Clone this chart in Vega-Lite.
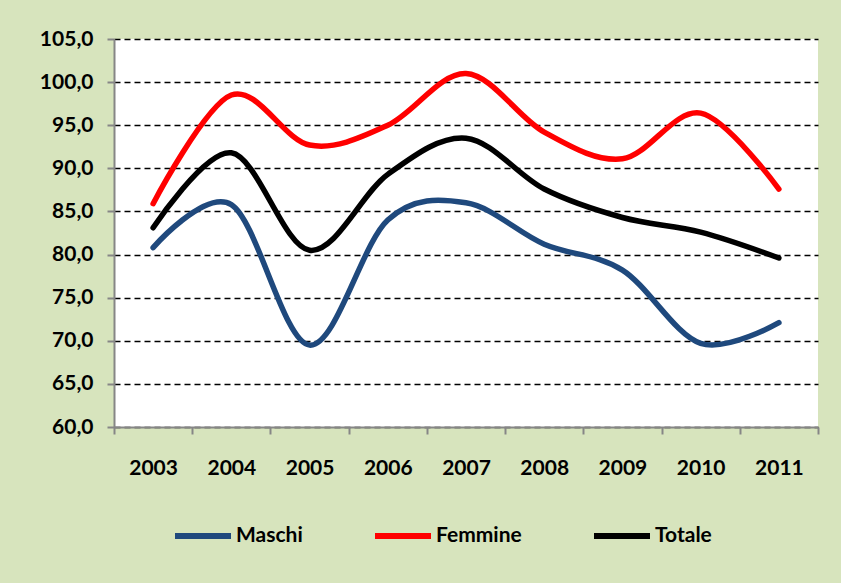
{
  "$schema": "https://vega.github.io/schema/vega-lite/v6.json",
  "width": 704,
  "height": 388,
  "autosize": {"type": "none"},
  "padding": {"left": 114, "top": 39, "right": 23, "bottom": 156},
  "background": "#D7E4BD",
  "config": {"view": {"fill": "white", "stroke": null}, "font": "Lato"},
  "data": {
    "values": [
      {"anno": "2003", "serie": "Maschi", "valore": 80.8},
      {"anno": "2004", "serie": "Maschi", "valore": 85.8},
      {"anno": "2005", "serie": "Maschi", "valore": 69.5},
      {"anno": "2006", "serie": "Maschi", "valore": 84.0},
      {"anno": "2007", "serie": "Maschi", "valore": 86.0},
      {"anno": "2008", "serie": "Maschi", "valore": 81.2},
      {"anno": "2009", "serie": "Maschi", "valore": 78.2},
      {"anno": "2010", "serie": "Maschi", "valore": 69.7},
      {"anno": "2011", "serie": "Maschi", "valore": 72.1},
      {"anno": "2003", "serie": "Femmine", "valore": 85.9},
      {"anno": "2004", "serie": "Femmine", "valore": 98.5},
      {"anno": "2005", "serie": "Femmine", "valore": 92.7},
      {"anno": "2006", "serie": "Femmine", "valore": 95.0},
      {"anno": "2007", "serie": "Femmine", "valore": 101.0},
      {"anno": "2008", "serie": "Femmine", "valore": 94.2},
      {"anno": "2009", "serie": "Femmine", "valore": 91.1},
      {"anno": "2010", "serie": "Femmine", "valore": 96.4},
      {"anno": "2011", "serie": "Femmine", "valore": 87.6},
      {"anno": "2003", "serie": "Totale", "valore": 83.1},
      {"anno": "2004", "serie": "Totale", "valore": 91.8},
      {"anno": "2005", "serie": "Totale", "valore": 80.5},
      {"anno": "2006", "serie": "Totale", "valore": 89.3},
      {"anno": "2007", "serie": "Totale", "valore": 93.5},
      {"anno": "2008", "serie": "Totale", "valore": 87.6},
      {"anno": "2009", "serie": "Totale", "valore": 84.3},
      {"anno": "2010", "serie": "Totale", "valore": 82.6},
      {"anno": "2011", "serie": "Totale", "valore": 79.6}
    ]
  },
  "mark": {"type": "line", "interpolate": "cardinal", "strokeWidth": 5.5, "strokeCap": "round"},
  "encoding": {
    "x": {
      "field": "anno",
      "type": "ordinal",
      "scale": {"type": "band", "paddingInner": 0, "paddingOuter": 0},
      "axis": {
        "title": null,
        "labelAngle": 0,
        "labelFontSize": 21,
        "labelFontWeight": "bold",
        "labelColor": "black",
        "labelPadding": 23,
        "tickBand": "extent",
        "tickColor": "#868686",
        "tickWidth": 2,
        "tickSize": 7,
        "domainColor": "#868686",
        "domainWidth": 2,
        "grid": false
      }
    },
    "y": {
      "field": "valore",
      "type": "quantitative",
      "scale": {"domain": [60, 105], "nice": false, "zero": false},
      "axis": {
        "title": null,
        "values": [60, 65, 70, 75, 80, 85, 90, 95, 100, 105],
        "labelExpr": "replace(format(datum.value, '.1f'), '.', ',')",
        "labelFontSize": 21,
        "labelFontWeight": "bold",
        "labelColor": "black",
        "labelPadding": 14,
        "tickColor": "#868686",
        "tickWidth": 2,
        "tickSize": 7,
        "domainColor": "#868686",
        "domainWidth": 2,
        "grid": true,
        "gridColor": "black",
        "gridWidth": 1.5,
        "gridDash": [6, 4]
      }
    },
    "color": {
      "field": "serie",
      "type": "nominal",
      "sort": ["Maschi", "Femmine", "Totale"],
      "scale": {"domain": ["Maschi", "Femmine", "Totale"], "range": ["#1F497D", "#FF0000", "#000000"]},
      "legend": {
        "title": null,
        "orient": "none",
        "legendX": 58,
        "legendY": 466,
        "direction": "horizontal",
        "symbolType": "stroke",
        "symbolSize": 3136,
        "symbolStrokeWidth": 6,
        "labelFontSize": 21,
        "labelFontWeight": "bold",
        "labelColor": "black",
        "labelOffset": 2,
        "columnPadding": 60
      }
    }
  }
}
